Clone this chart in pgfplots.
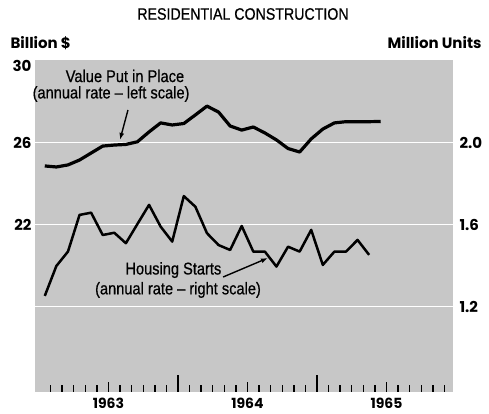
\documentclass[border=0pt]{standalone}
\usepackage{fontspec}
\usepackage{pgfplots}
\pgfplotsset{compat=1.18}
\usetikzlibrary{arrows.meta}
\setmainfont{Liberation Sans}
\newfontfamily\cond{Liberation Sans}[FakeStretch=0.86, FakeBold=0.6]
\newfontfamily\geo{Poppins}
\definecolor{stip}{gray}{0.78}

\pgfplotstableread{
m v
0.5 24.88
1.5 24.83
2.5 24.93
3.5 25.17
4.5 25.51
5.5 25.85
6.5 25.90
7.5 25.93
8.5 26.06
9.5 26.54
10.5 26.98
11.5 26.88
12.5 26.95
13.5 27.37
14.5 27.80
15.5 27.51
16.5 26.83
17.5 26.63
18.5 26.78
19.5 26.49
20.5 26.15
21.5 25.73
22.5 25.56
23.5 26.20
24.5 26.68
25.5 26.98
26.5 27.04
27.5 27.04
28.5 27.04
29.5 27.05
}\valuetable

\pgfplotstableread{
m s
0.5 1.254
1.5 1.400
2.5 1.470
3.5 1.649
4.5 1.660
5.5 1.551
6.5 1.562
7.5 1.511
8.5 1.605
9.5 1.698
10.5 1.592
11.5 1.519
12.5 1.741
13.5 1.689
14.5 1.560
15.5 1.502
16.5 1.478
17.5 1.595
18.5 1.470
19.5 1.470
20.5 1.397
21.5 1.494
22.5 1.470
23.5 1.576
24.5 1.405
25.5 1.470
26.5 1.470
27.5 1.527
28.5 1.454
}\startstable

\begin{document}
\begin{tikzpicture}[x=1pt,y=1pt]
\path (0,0) rectangle (489,414);
\node[font=\cond\fontsize{16.5}{16.5}\selectfont] at (243,400) {RESIDENTIAL CONSTRUCTION};
\node[font=\geo\bfseries\fontsize{15}{15}\selectfont, anchor=west] at (7,371) {Billion \$};
\node[font=\geo\bfseries\fontsize{15}{15}\selectfont, anchor=east] at (485,371) {Million Units};

% left axis: background, grid, value line
\begin{axis}[
  at={(35pt,22pt)}, anchor=south west,
  scale only axis, width=418pt, height=332pt,
  xmin=-0.345, xmax=35.74, ymin=13.85, ymax=30.05,
  axis background/.style={fill=stip},
  axis line style={draw=none},
  xtick=\empty,
  ytick={18,22,26}, yticklabels={,22,26},
  extra y ticks={30}, extra y tick labels={30},
  extra y tick style={grid=none, yticklabel style={yshift=-5pt}},
  ymajorgrids, major grid style={white, line width=1pt},
  major tick length=0pt,
  ytick pos=left,
  /pgf/number format/assume math mode=true,
  yticklabel style={font=\geo\bfseries\fontsize{15}{15}\selectfont},
  clip=false,
]
\addplot[black, line width=3.2pt, line join=round] table[x=m,y=v] {\valuetable};
\node[font=\cond\fontsize{17}{17}\selectfont] at (axis cs:7.42,29.27) {Value Put in Place};
\node[font=\cond\fontsize{17}{17}\selectfont] at (axis cs:6.22,28.39) {(annual rate – left scale)};
\draw[line width=1.4pt, -{Latex[length=7pt,width=5pt]}] (axis cs:7.68,27.61) -- (axis cs:6.99,26.15);
\node[font=\cond\fontsize{17}{17}\selectfont] at (axis cs:11.6,19.80) {Housing Starts};
\node[font=\cond\fontsize{17}{17}\selectfont] at (axis cs:12.0,18.83) {(annual rate – right scale)};
\draw[line width=1.4pt, -{Latex[length=7pt,width=5pt]}] (axis cs:15.89,19.46) -- (axis cs:19.77,20.39);
\end{axis}

% right axis: housing starts
\begin{axis}[
  at={(35pt,22pt)}, anchor=south west,
  scale only axis, width=418pt, height=332pt,
  xmin=-0.345, xmax=35.74, ymin=0.785, ymax=2.405,
  axis line style={draw=none},
  xtick=\empty,
  ytick={1.2,1.6,2.0}, yticklabels={1.2,1.6,2.0},
  major tick length=0pt,
  ytick pos=right, yticklabel pos=right,
  /pgf/number format/assume math mode=true,
  yticklabel style={font=\geo\bfseries\fontsize{15}{15}\selectfont, xshift=3pt},
]
\addplot[black, line width=2.5pt, line join=round] table[x=m,y=s] {\startstable};
\end{axis}

% x ticks only
\begin{axis}[
  at={(35pt,22pt)}, anchor=south west,
  scale only axis, width=418pt, height=332pt,
  xmin=-0.345, xmax=35.74, ymin=0, ymax=1,
  axis line style={draw=none},
  ytick=\empty,
  xtick={6,18,30}, xticklabels={1963,1964,1965},
  minor xtick={1,...,35},
  extra x ticks={12,24}, extra x tick labels={},
  extra x tick style={major tick length=17pt},
  xtick pos=bottom, tick align=inside,
  major tick length=10pt, minor tick length=7pt,
  tick style={black, line width=1.4pt},
  /pgf/number format/assume math mode=true,
  xticklabel style={font=\geo\bfseries\fontsize{14}{14}\selectfont, yshift=-3pt},
]
\end{axis}
\end{tikzpicture}
\end{document}
